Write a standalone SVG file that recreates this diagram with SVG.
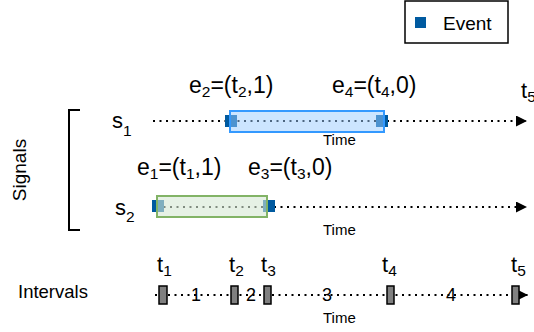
<svg xmlns="http://www.w3.org/2000/svg" width="534" height="332" viewBox="0 0 534 332">
<style>
text { font-family: "Liberation Sans", Arial, Helvetica, sans-serif; fill: #000; }
.lbl { font-size: 22px; }
.elbl { font-size: 23px; }
.sb { font-size: 15.5px; }
.time { font-size: 15px; }
.num { font-size: 18px; text-anchor: middle; }
.dot { stroke: #000; stroke-width: 2; stroke-dasharray: 2 4.5; fill: none; }
.ev { fill: #005aa0; }
.ibox { fill: #808080; stroke: #000; stroke-width: 1.5; }
</style>
<defs>
<marker id="arr" viewBox="0 0 11 11" refX="11" refY="5.5" markerWidth="11" markerHeight="11" markerUnits="userSpaceOnUse" orient="auto">
<path d="M0,0 L11,5.5 L0,11 Z" fill="#000" stroke="none"/>
</marker>
</defs>

<g id="legend">
<rect x="405" y="1" width="103" height="42" fill="#fff" stroke="#000" stroke-width="1.5"/>
<rect x="415" y="17" width="11" height="11" class="ev"/>
<text x="443" y="30" style="font-size:19px">Event</text>
</g>

<g id="signals-bracket">
<path d="M80,110 H69 V230 H80" fill="none" stroke="#000" stroke-width="2"/>
<text transform="translate(26,170) rotate(-90)" text-anchor="middle" style="font-size:19px">Signals</text>
</g>

<g id="connectors">
<path class="dot" d="M153,121 H527" marker-end="url(#arr)"/>
<path class="dot" d="M157,207 H527" marker-end="url(#arr)"/>
<path class="dot" d="M155,295 H528" marker-end="url(#arr)"/>
</g>

<g id="s1">
<text class="lbl" x="112" y="128">s<tspan class="sb" dy="8">1</tspan></text>
<rect class="ev" x="225" y="115" width="12" height="12"/>
<rect class="ev" x="376" y="115" width="12" height="12"/>
<rect x="230" y="111" width="154" height="21" fill="#99ccff" fill-opacity="0.5" stroke="#3399ff" stroke-width="2"/>
<text class="time" x="323" y="145">Time</text>
</g>

<g id="s2">
<text class="lbl" x="115" y="215">s<tspan class="sb" dy="7">2</tspan></text>
<rect class="ev" x="152" y="200" width="12" height="12"/>
<rect class="ev" x="263" y="200" width="12" height="12"/>
<rect x="157" y="196" width="110" height="21" fill="#d5e8d4" fill-opacity="0.6" stroke="#82b366" stroke-width="2"/>
<text class="time" x="323" y="235">Time</text>
</g>

<g id="e2"><text class="elbl" x="189" y="93">e<tspan class="sb" dy="4">2</tspan><tspan dy="-4">=(t</tspan><tspan class="sb" dy="4">2</tspan><tspan dy="-4">,1)</tspan></text></g>
<g id="e4"><text class="elbl" x="332" y="93">e<tspan class="sb" dy="4">4</tspan><tspan dy="-4">=(t</tspan><tspan class="sb" dy="4">4</tspan><tspan dy="-4">,0)</tspan></text></g>
<g id="t5top"><text class="lbl" x="521" y="98">t<tspan class="sb" dy="4">5</tspan></text></g>
<g id="e1"><text class="elbl" x="137" y="175">e<tspan class="sb" dy="4">1</tspan><tspan dy="-4">=(t</tspan><tspan class="sb" dy="4">1</tspan><tspan dy="-4">,1)</tspan></text></g>
<g id="e3"><text class="elbl" x="248" y="175">e<tspan class="sb" dy="4">3</tspan><tspan dy="-4">=(t</tspan><tspan class="sb" dy="4">3</tspan><tspan dy="-4">,0)</tspan></text></g>

<g id="intervals">
<text x="18" y="298" style="font-size:18.5px">Intervals</text>
<rect class="ibox" x="159" y="286" width="8" height="18"/>
<rect class="ibox" x="231" y="286" width="7" height="18"/>
<rect class="ibox" x="264" y="286" width="7" height="18"/>
<rect class="ibox" x="387" y="286" width="7" height="18"/>
<rect class="ibox" x="512" y="286" width="7" height="18"/>
<text class="lbl" x="157" y="272">t<tspan class="sb" dy="4">1</tspan></text>
<text class="lbl" x="229" y="272">t<tspan class="sb" dy="4">2</tspan></text>
<text class="lbl" x="261" y="272">t<tspan class="sb" dy="4">3</tspan></text>
<text class="lbl" x="382" y="272">t<tspan class="sb" dy="4">4</tspan></text>
<text class="lbl" x="511" y="272">t<tspan class="sb" dy="4">5</tspan></text>
<text class="num" x="196" y="301">1</text>
<text class="num" x="251" y="301">2</text>
<text class="num" x="327" y="301">3</text>
<text class="num" x="451" y="301">4</text>
<text class="time" x="323" y="323">Time</text>
</g>
</svg>
